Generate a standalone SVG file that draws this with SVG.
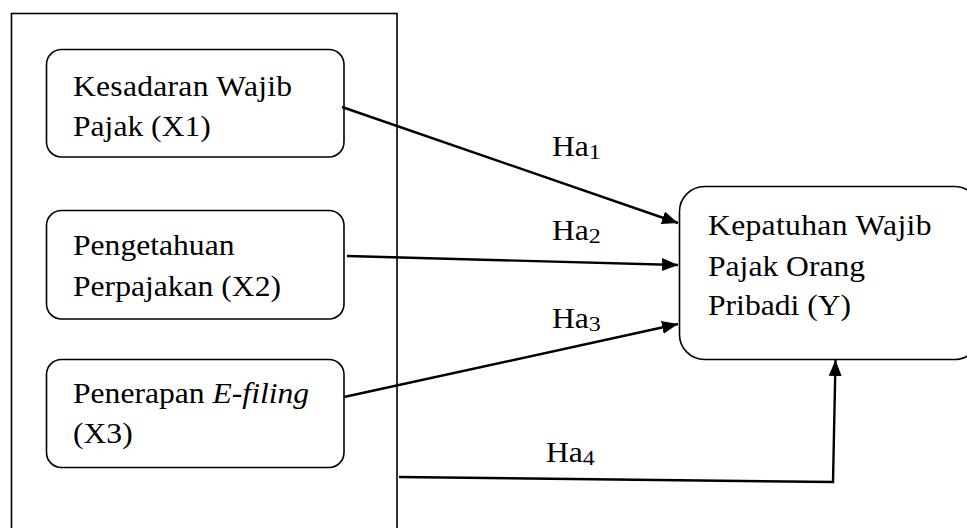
<svg xmlns="http://www.w3.org/2000/svg" width="967" height="528" viewBox="0 0 967 528">
<style>
.box{fill:#fff;stroke:#000;stroke-width:1.6}
.t{font-family:"Liberation Serif","Times New Roman",serif;font-size:29px;fill:#000}
.s{font-size:22px}
.c{fill:none;stroke:#000;stroke-width:2.4}
</style>
<defs>
<marker id="ah" markerWidth="16" markerHeight="13" refX="16" refY="6.5" orient="auto" markerUnits="userSpaceOnUse">
<path d="M0,0 L16,6.5 L0,13 Z" fill="#000"/>
</marker>
</defs>
<rect width="967" height="528" fill="#fff"/>
<g id="frame"><rect x="11.5" y="13.5" width="385.5" height="530" fill="none" stroke="#000" stroke-width="1.6"/></g>
<g id="x1">
<rect class="box" x="46.5" y="49.5" width="297.5" height="107.5" rx="15"/>
<text class="t" transform="translate(73,96) scale(1.09,1)" textLength="201" lengthAdjust="spacing">Kesadaran Wajib</text>
<text class="t" transform="translate(73,136) scale(1.09,1)">Pajak (X1)</text>
</g>
<g id="x2">
<rect class="box" x="46.5" y="210.5" width="297.5" height="108.5" rx="15"/>
<text class="t" transform="translate(73,255) scale(1.09,1)">Pengetahuan</text>
<text class="t" transform="translate(73,296) scale(1.09,1)">Perpajakan (X2)</text>
</g>
<g id="x3">
<rect class="box" x="46.5" y="359.5" width="297.5" height="108" rx="15"/>
<text class="t" transform="translate(73,403) scale(1.09,1)">Penerapan <tspan font-style="italic">E-filing</tspan></text>
<text class="t" transform="translate(73,443) scale(1.09,1)">(X3)</text>
</g>
<g id="y">
<rect class="box" x="679.5" y="186.5" width="300" height="173" rx="25"/>
<text class="t" transform="translate(708,235) scale(1.09,1)" textLength="205" lengthAdjust="spacing">Kepatuhan Wajib</text>
<text class="t" transform="translate(708,276) scale(1.09,1)">Pajak Orang</text>
<text class="t" transform="translate(708,315) scale(1.09,1)">Pribadi (Y)</text>
</g>
<g id="connectors">
<path class="c" d="M342,107 L678,223" marker-end="url(#ah)"/>
<path class="c" d="M347,256 L678,265" marker-end="url(#ah)"/>
<path class="c" d="M344,397 L678,324" marker-end="url(#ah)"/>
<path class="c" d="M399,477 L833,482 L835.5,360" marker-end="url(#ah)"/>
</g>
<g id="labels">
<text class="t" transform="translate(552,156) scale(1.09,1)">Ha<tspan class="s" dy="3">1</tspan></text>
<text class="t" transform="translate(552,240) scale(1.09,1)">Ha<tspan class="s" dy="3">2</tspan></text>
<text class="t" transform="translate(552,328) scale(1.09,1)">Ha<tspan class="s" dy="3">3</tspan></text>
<text class="t" transform="translate(546,462) scale(1.09,1)">Ha<tspan class="s" dy="3">4</tspan></text>
</g>
</svg>
